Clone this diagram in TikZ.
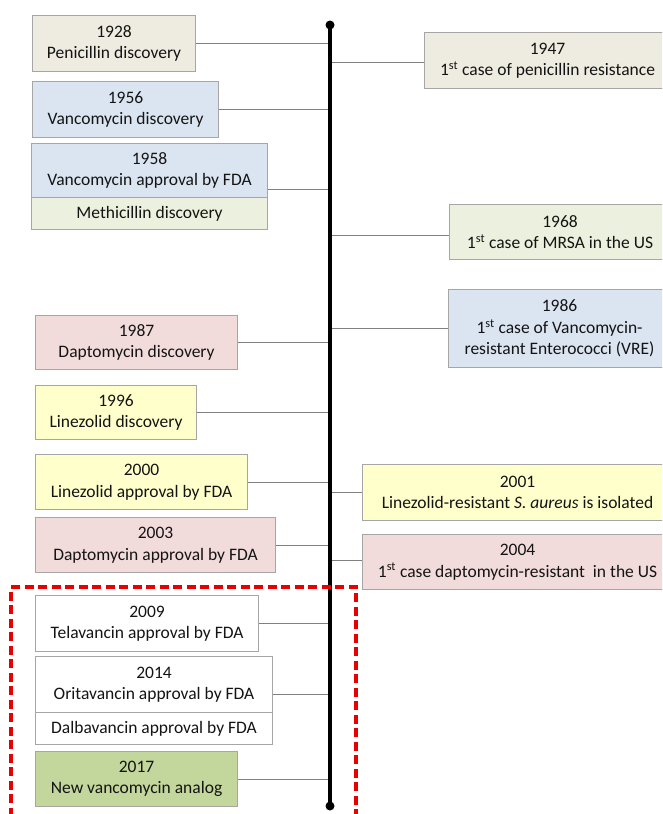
\documentclass[tikz,border=0pt]{standalone}
\usepackage{fontspec}
\setmainfont{Carlito}
\definecolor{tan}{HTML}{EEECE1}
\definecolor{lblue}{HTML}{DBE5F1}
\definecolor{lgreen}{HTML}{EBF1DE}
\definecolor{lpink}{HTML}{F2DCDB}
\definecolor{lyellow}{HTML}{FFFFCC}
\definecolor{dgreen}{HTML}{C3D69B}
\definecolor{bordergray}{HTML}{A6A6A6}
\definecolor{conngray}{HTML}{808080}
\definecolor{txt}{HTML}{141414}
\definecolor{dashred}{HTML}{E80000}
\begin{document}
\begin{tikzpicture}[x=1pt,y=-1pt,
  box/.style={draw=bordergray, line width=1.1pt, anchor=north west, inner sep=0pt,
    align=center, text=txt, font=\fontsize{17.5}{21.5}\selectfont},
  conn/.style={draw=conngray, line width=0.9pt},
  axisline/.style={draw=black, line width=3.2pt},
  reddash/.style={draw=dashred, line width=3.2pt, dash pattern=on 9pt off 4.5pt}]
\useasboundingbox (0,0) rectangle (662,814);
\clip (0,0) rectangle (662,814);
\fill[white] (0,0) rectangle (662,814);
% axis
\coordinate (axtop) at (330,25);
\coordinate (axbot) at (330,806);
% left boxes
\node[box, fill=tan, minimum width=163pt, minimum height=56pt] (n1928) at (32,15) {1928\\Penicillin discovery};
\node[box, fill=lblue, minimum width=186pt, minimum height=56pt] (n1956) at (32,81) {1956\\Vancomycin discovery};
\node[box, fill=lblue, minimum width=236pt, minimum height=54pt] (n1958) at (31,143) {1958\\Vancomycin approval by FDA};
\node[box, fill=lgreen, minimum width=236pt, minimum height=32pt] (nmeth) at (31,197) {Methicillin discovery};
\node[box, fill=lpink, minimum width=202pt, minimum height=54pt] (n1987) at (35,315) {1987\\Daptomycin discovery};
\node[box, fill=lyellow, minimum width=161pt, minimum height=54pt] (n1996) at (35,385) {1996\\Linezolid discovery};
\node[box, fill=lyellow, minimum width=212pt, minimum height=55pt] (n2000) at (35,454) {2000\\Linezolid approval by FDA};
\node[box, fill=lpink, minimum width=240pt, minimum height=55pt] (n2003) at (35,517) {2003\\Daptomycin approval by FDA};
\node[box, fill=white, minimum width=223pt, minimum height=56pt] (n2009) at (35,595) {2009\\Telavancin approval by FDA};
\node[box, fill=white, minimum width=237pt, minimum height=56pt] (n2014) at (35,656) {2014\\Oritavancin approval by FDA};
\node[box, fill=white, minimum width=237pt, minimum height=32pt] (ndalba) at (35,712) {Dalbavancin approval by FDA};
\node[box, fill=dgreen, minimum width=202pt, minimum height=55pt] (n2017) at (35,751) {2017\\New vancomycin analog};
% right boxes
\node[box, fill=tan, minimum width=246pt, minimum height=56pt] (n1947) at (424,32) {1947\\1\textsuperscript{st} case of penicillin resistance};
\node[box, fill=lgreen, minimum width=221pt, minimum height=55pt] (n1968) at (449,204) {1968\\1\textsuperscript{st} case of MRSA in the US};
\node[box, fill=lblue, minimum width=222pt, minimum height=78pt] (n1986) at (448,289) {1986\\1\textsuperscript{st} case of Vancomycin-\\resistant Enterococci (VRE)};
\node[box, fill=lyellow, minimum width=310pt, minimum height=56pt] (n2001) at (362,464) {2001\\Linezolid-resistant \textit{S. aureus} is isolated};
\node[box, fill=lpink, minimum width=310pt, minimum height=55pt] (n2004) at (362,534) {2004\\1\textsuperscript{st} case daptomycin-resistant \ in the US};
% connectors
\draw[conn] (n1928.east) -- (n1928.east -| axtop);
\draw[conn] (n1956.east) -- (n1956.east -| axtop);
\draw[conn] ([yshift=-19pt]n1958.east) -- ([yshift=-19pt]n1958.east -| axtop);
\draw[conn] (n1987.east) -- (n1987.east -| axtop);
\draw[conn] (n1996.east) -- (n1996.east -| axtop);
\draw[conn] (n2000.east) -- (n2000.east -| axtop);
\draw[conn] (n2003.east) -- (n2003.east -| axtop);
\draw[conn] (n2009.east) -- (n2009.east -| axtop);
\draw[conn] ([yshift=-10pt]n2014.east) -- ([yshift=-10pt]n2014.east -| axtop);
\draw[conn] (n2017.east) -- (n2017.east -| axtop);
\draw[conn] ([yshift=-2pt]n1947.west) -- ([yshift=-2pt]n1947.west -| axtop);
\draw[conn] ([yshift=-3pt]n1968.west) -- ([yshift=-3pt]n1968.west -| axtop);
\draw[conn] (n1986.west) -- (n1986.west -| axtop);
\draw[conn] (n2001.west) -- (n2001.west -| axtop);
\draw[conn] ([yshift=2pt]n2004.west) -- ([yshift=2pt]n2004.west -| axtop);
% axis
\draw[axisline] (axtop) -- (axbot);
\fill[black] (axtop) circle (4.5pt);
\fill[black] (axbot) circle (4.5pt);
% red dashed frame
\draw[reddash] (11,830) -- (11,587) -- (356,587) -- (356,830);
\end{tikzpicture}
\end{document}
